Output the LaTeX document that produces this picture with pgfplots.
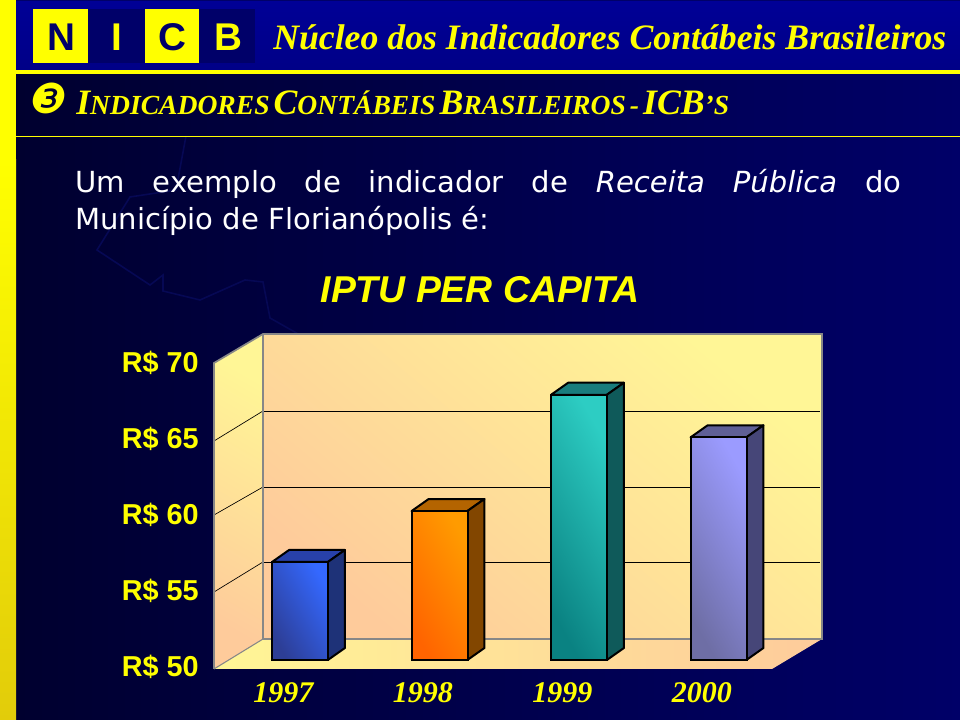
\documentclass[border=0pt]{standalone}
\usepackage{fontspec}
\usepackage{pgfplots}
\pgfplotsset{compat=1.18}
\setmainfont{Liberation Sans}
\newfontfamily\tnr{Liberation Serif}
\newfontfamily\vrd{DejaVu Sans}
\definecolor{ylw}{RGB}{255,255,0}
\definecolor{navyA}{RGB}{0,0,46}
\definecolor{navyB}{RGB}{0,0,104}
\definecolor{logoblue}{RGB}{0,0,105}
\definecolor{wallpeach}{RGB}{254,203,155}
\definecolor{wallyellow}{RGB}{255,246,150}
\definecolor{edgegray}{RGB}{135,135,135}
\definecolor{mapline}{RGB}{6,8,84}
\newcommand{\bi}[1]{{\fontsize{26.8}{26.8}\selectfont #1}}
\newcommand{\sm}[1]{{\fontsize{20.7}{20.7}\selectfont #1}}
\begin{document}
\begin{tikzpicture}
\path[use as bounding box] (0pt,0pt) rectangle (720pt,540pt);
% page furniture, in reference pixels
\begin{scope}[x=0.75pt,y=-0.75pt,shift={(0pt,540pt)}]
  \shade[left color=navyA,right color=navyB] (0,0) rectangle (960,720);
  \draw[mapline,line width=1.2pt] (186,136) -- (176,190) -- (130,197) -- (97,250) -- (150,285) -- (163,275) -- (163,291) -- (200,300) -- (245,280) -- (263,282) -- (270,318) -- (300,335);
  \shade[top color=ylw,bottom color={rgb,255:red,226;green,204;blue,10}] (0,160) rectangle (16,720);
  \fill[ylw] (0,0) rectangle (16,160);
  \shade[top color={rgb,255:red,0;green,0;blue,150},middle color={rgb,255:red,0;green,0;blue,200},bottom color={rgb,255:red,0;green,0;blue,135}] (16,0) rectangle (960,70);
  \fill[navyB] (16,0) rectangle (960,1.5);
  \fill[ylw] (16,70) rectangle (960,74);
  \fill[ylw] (16,136) rectangle (960,137);
  % logo
  \fill[logoblue] (88,9) rectangle (255,63);
  \fill[ylw] (33,9) rectangle (88,63);
  \fill[ylw] (145,9) rectangle (199,63);
  \node[font=\bfseries\fontsize{29}{29}\selectfont,text=logoblue] at (61,37) {N};
  \node[font=\bfseries\fontsize{29}{29}\selectfont,text=ylw] at (117,37) {I};
  \node[font=\bfseries\fontsize{29}{29}\selectfont,text=logoblue] at (172,37) {C};
  \node[font=\bfseries\fontsize{29}{29}\selectfont,text=ylw] at (228,37) {B};
  \node[anchor=base west,inner sep=0pt,text=ylw,font=\tnr\bfseries\itshape\fontsize{26.8}{26.8}\selectfont] at (273,50) {Núcleo dos Indicadores Contábeis Brasileiros};
  \node[anchor=base west,inner sep=0pt,text=ylw,font=\tnr\bfseries\itshape] at (76,115) {\bi{I}\sm{NDICADORES}\hspace{3pt}\bi{C}\sm{ONTÁBEIS}\hspace{3pt}\bi{B}\sm{RASILEIROS}\hspace{3pt}\sm{-}\hspace{3pt}\bi{ICB}\sm{’S}};
  \node[anchor=center,inner sep=0pt,text=ylw,font=\vrd\fontsize{31}{31}\selectfont,xslant=0.2,transform shape] at (49,98) {❸};
  % body text
  \node[anchor=base west,inner sep=0pt,text=white,font=\vrd\fontsize{21.8}{21.8}\selectfont] at (75,193) {\makebox[619.5pt][s]{Um\hfill exemplo\hfill de\hfill indicador\hfill de\hfill \textit{Receita}\hfill \textit{Pública}\hfill do}};
  \node[anchor=base west,inner sep=0pt,text=white,font=\vrd\fontsize{21.8}{21.8}\selectfont] at (75,230) {Município de Florianópolis é:};
  \node[anchor=base,inner sep=0pt,text=ylw,font=\bfseries\itshape\fontsize{28}{28}\selectfont] at (480,303) {IPTU PER CAPITA};
  % chart walls
  \shade[bottom color=wallpeach,top color=wallyellow,shading angle=-40] (263,334) rectangle (822,639);
  \shade[bottom color=wallpeach,top color=wallyellow,shading angle=-30] (214,363) -- (263,334) -- (263,639) -- (214,669) -- cycle;
  \shade[left color=wallyellow,right color=wallpeach] (214,669) -- (263,639) -- (822,639) -- (772,669) -- cycle;
  \draw[black,line width=0.6pt] (263,411) -- (820,411) (263,487) -- (820,487) (263,562) -- (820,562);
  \draw[black,line width=0.5pt] (214,441) -- (263,411) (214,515) -- (263,487) (214,592) -- (263,562);
  \draw[edgegray,line width=1.3pt] (214,669) -- (214,363) -- (263,334) -- (822,334) -- (822,639) -- (263,639) -- (263,334);
  \draw[edgegray,line width=0.8pt] (214,669) -- (263,639);
\end{scope}
\begin{axis}[
  at={(162.225pt,45pt)},
  anchor=south west,
  scale only axis,
  width=418.5pt,
  height=228pt,
  xmin=-0.6, xmax=3.4,
  ymin=50, ymax=70,
  clip=false,
  axis line style={draw=none},
  tick style={draw=none},
  xtick={0,1,2,3},
  xticklabels={1997,1998,1999,2000},
  ytick={50,55,60,65,70},
  yticklabels={R\$ 50,R\$ 55,R\$ 60,R\$ 65,R\$ 70},
  yticklabel style={text=ylw,font=\bfseries\fontsize{21.6}{21.6}\selectfont,anchor=east,inner sep=0pt,xshift=-13pt,yshift=-5pt},
  xticklabel style={text=ylw,font=\tnr\bfseries\itshape\fontsize{22.5}{22.5}\selectfont,anchor=base,inner sep=0pt,xshift=-12.5pt,yshift=-32pt},
]
% 1997
\addplot[draw=black,line width=1.5pt,line join=round,fill={rgb,255:red,40;green,65;blue,170}] coordinates {(-0.2,56.45) (-0.078,57.24) (0.322,57.24) (0.2,56.45)} -- cycle;
\addplot[draw=black,line width=1.5pt,line join=round,fill={rgb,255:red,30;green,50;blue,120}] coordinates {(0.2,50) (0.322,50.79) (0.322,57.24) (0.2,56.45)} -- cycle;
\addplot[ybar,bar width=42pt,draw=black,line width=1.5pt,top color={rgb,255:red,52;green,104;blue,255},bottom color={rgb,255:red,45;green,62;blue,150},shading angle=-60] coordinates {(0,56.45)};
% 1998
\addplot[draw=black,line width=1.5pt,line join=round,fill={rgb,255:red,180;green,100;blue,0}] coordinates {(0.8,59.8) (0.922,60.59) (1.322,60.59) (1.2,59.8)} -- cycle;
\addplot[draw=black,line width=1.5pt,line join=round,fill={rgb,255:red,130;green,70;blue,0}] coordinates {(1.2,50) (1.322,50.79) (1.322,60.59) (1.2,59.8)} -- cycle;
\addplot[ybar,bar width=42pt,draw=black,line width=1.5pt,top color={rgb,255:red,255;green,155;blue,0},bottom color={rgb,255:red,255;green,100;blue,0},shading angle=-60] coordinates {(1,59.8)};
% 1999
\addplot[draw=black,line width=1.5pt,line join=round,fill={rgb,255:red,25;green,125;blue,125}] coordinates {(1.8,67.45) (1.922,68.24) (2.322,68.24) (2.2,67.45)} -- cycle;
\addplot[draw=black,line width=1.5pt,line join=round,fill={rgb,255:red,15;green,90;blue,90}] coordinates {(2.2,50) (2.322,50.79) (2.322,68.24) (2.2,67.45)} -- cycle;
\addplot[ybar,bar width=42pt,draw=black,line width=1.5pt,top color={rgb,255:red,45;green,205;blue,195},bottom color={rgb,255:red,10;green,130;blue,130},shading angle=-60] coordinates {(2,67.45)};
% 2000
\addplot[draw=black,line width=1.5pt,line join=round,fill={rgb,255:red,95;green,95;blue,150}] coordinates {(2.8,64.65) (2.922,65.44) (3.322,65.44) (3.2,64.65)} -- cycle;
\addplot[draw=black,line width=1.5pt,line join=round,fill={rgb,255:red,70;green,70;blue,120}] coordinates {(3.2,50) (3.322,50.79) (3.322,65.44) (3.2,64.65)} -- cycle;
\addplot[ybar,bar width=42pt,draw=black,line width=1.5pt,top color={rgb,255:red,155;green,155;blue,255},bottom color={rgb,255:red,110;green,110;blue,165},shading angle=-60] coordinates {(3,64.65)};
\end{axis}
\end{tikzpicture}
\end{document}
